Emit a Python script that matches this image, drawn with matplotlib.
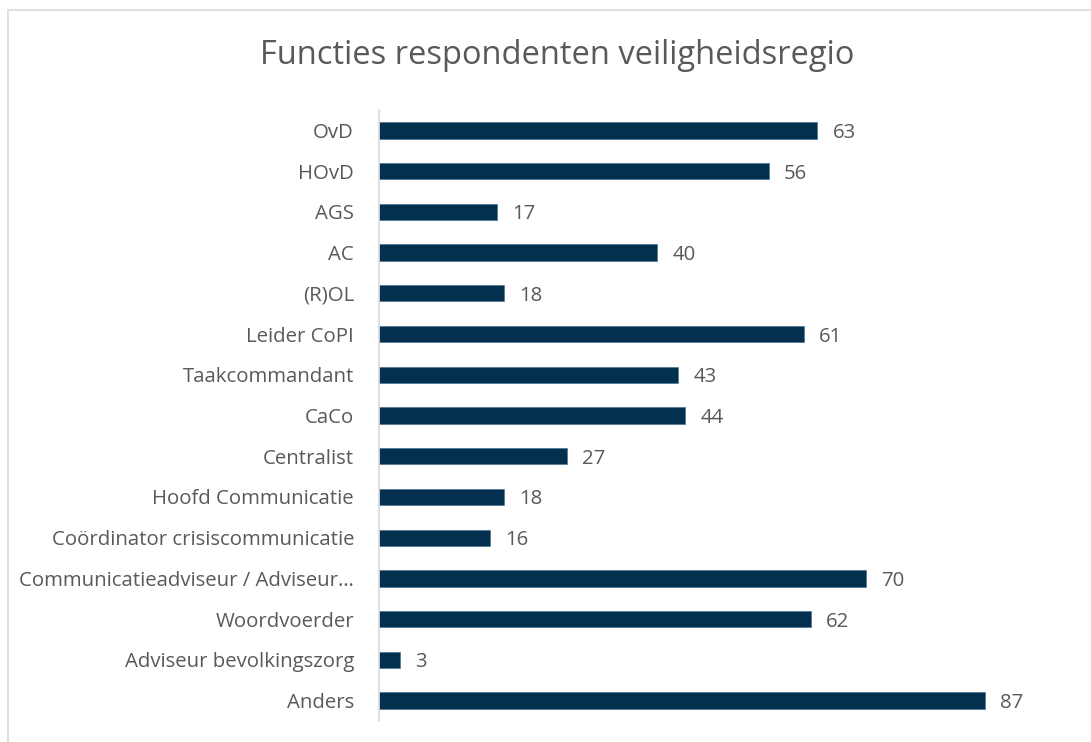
import matplotlib
matplotlib.use("Agg")
import matplotlib.pyplot as plt
from matplotlib.patches import Rectangle

title = "Functies respondenten veiligheidsregio"
categories = [
    "OvD", "HOvD", "AGS", "AC", "(R)OL", "Leider CoPI", "Taakcommandant",
    "CaCo", "Centralist", "Hoofd Communicatie",
    "Coördinator crisiscommunicatie",
    "Communicatieadviseur / Adviseur…", "Woordvoerder",
    "Adviseur bevolkingszorg", "Anders",
]
values = [63, 56, 17, 40, 18, 61, 43, 44, 27, 18, 16, 70, 62, 3, 87]

BAR = "#03304F"
TXT = "#595959"
plt.rcParams["font.family"] = ["Open Sans", "DejaVu Sans"]

W, H = 1091, 742
fig = plt.figure(figsize=(W / 100, H / 100), dpi=100)
fig.patch.set_facecolor("white")

# chart-area frame
fig.add_artist(Rectangle((8 / W, -0.01), 1.1, 1 - 10 / H + 0.01,
                         transform=fig.transFigure, fill=False,
                         edgecolor="#D9D9D9", linewidth=1.2))

left, right = 379, 1075
top, bottom = 110, 721
ax = fig.add_axes([left / W, 1 - bottom / H, (right - left) / W, (bottom - top) / H])

n = len(categories)
ypos = list(range(n))
ax.barh(ypos, values, height=0.4, color=BAR, edgecolor="#3E6A8A", linewidth=0.4)
ax.set_ylim(n - 0.5, -0.5)
ax.set_xlim(0, 100)
ax.set_yticks(ypos)
ax.set_yticklabels(categories, fontsize=14.7, color=TXT, va="center_baseline")
ax.tick_params(axis="y", length=0, pad=18)
ax.set_xticks([])
for s in ("top", "right", "bottom"):
    ax.spines[s].set_visible(False)
ax.spines["left"].set_color("#D9D9D9")
ax.spines["left"].set_linewidth(1.2)

for y, v in zip(ypos, values):
    ax.annotate(str(v), (v, y), xytext=(11, 0), textcoords="offset points",
                va="center_baseline", ha="left", fontsize=14.7, color=TXT)

fig.text(557 / W, 1 - 55 / H, title, ha="center", va="center",
         fontsize=23.5, color=TXT)

fig.savefig("out.png", dpi=100)
